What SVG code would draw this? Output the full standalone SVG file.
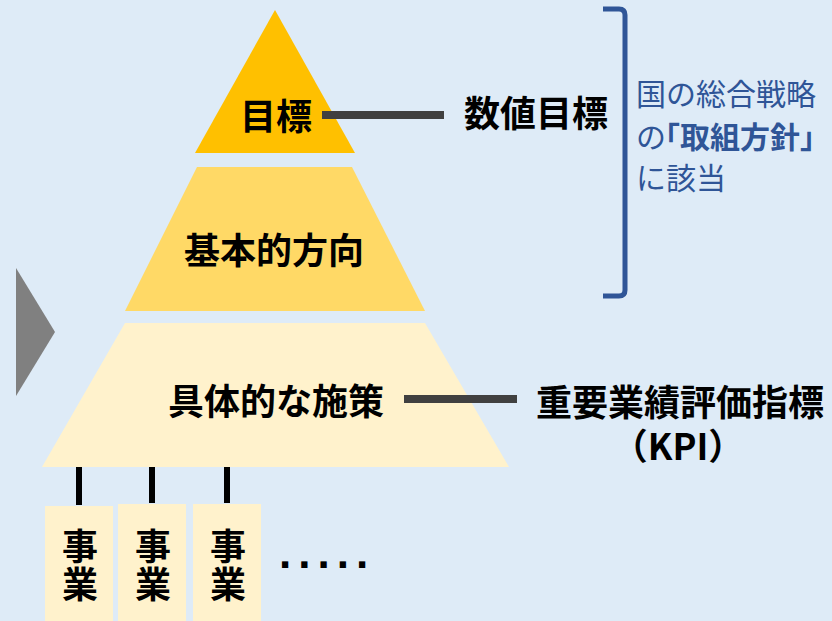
<svg xmlns="http://www.w3.org/2000/svg" width="832" height="621" viewBox="0 0 832 621">
<style>
.lbl{font-family:"Noto Sans CJK JP","Noto Sans CJK SC",sans-serif;font-weight:700;font-size:36px;fill:#000;text-anchor:middle}
.blue{font-family:"Noto Sans CJK JP","Noto Sans CJK SC",sans-serif;font-weight:400;font-size:30px;fill:#2F5597}
.conn{stroke:#404040;stroke-width:8;fill:none}
.stem{stroke:#000;stroke-width:6;fill:none}
.box{fill:#FFF2CC}
</style>
<rect width="832" height="621" fill="#DEEBF7"/>
<polygon points="16,268 55,332 16,396" fill="#808080"/>
<g id="level-top">
<polygon points="275,10 355,153 195,153" fill="#FFC000"/>
<text class="lbl" x="276" y="130">目標</text>
</g>
<g id="level-middle">
<polygon points="197,167 352,167 425,311 125,311" fill="#FFD966"/>
<text class="lbl" x="274" y="264">基本的方向</text>
</g>
<g id="level-bottom">
<polygon points="125,323 425,323 509,467 42,467" fill="#FFF2CC"/>
<text class="lbl" x="276" y="415">具体的な施策</text>
</g>
<g id="label-numeric">
<text class="lbl" x="536" y="127">数値目標</text>
</g>
<g id="label-kpi">
<text class="lbl" x="680" y="416">重要業績評価指標<tspan x="678" y="460">（KPI）</tspan></text>
</g>
<g id="bracket-note">
<path d="M603,9 H619 Q625,9 625,15 V290 Q625,296 619,296 H603" fill="none" stroke="#2F5597" stroke-width="5"/>
<text class="blue" x="636" y="105">国の総合戦略</text>
<text class="blue" x="636" y="148">の<tspan dx="-16" font-weight="700">「取組方針」</tspan></text>
<text class="blue" x="636" y="189">に該当</text>
</g>
<g id="project-1">
<rect class="box" x="45" y="506" width="68" height="115"/>
<text class="lbl" x="80" y="560">事<tspan x="80" y="598">業</tspan></text>
</g>
<g id="project-2">
<rect class="box" x="118" y="504" width="68" height="117"/>
<text class="lbl" x="153" y="560">事<tspan x="153" y="598">業</tspan></text>
</g>
<g id="project-3">
<rect class="box" x="193" y="504" width="68" height="117"/>
<text class="lbl" x="228" y="560">事<tspan x="228" y="598">業</tspan></text>
</g>
<text x="279" y="568" font-family="Liberation Sans,Arial,sans-serif" font-weight="700" font-size="44" letter-spacing="7" fill="#000">.....</text>
<g id="connectors">
<line class="conn" x1="322" y1="115" x2="444" y2="115"/>
<line class="conn" x1="404" y1="399" x2="517" y2="399"/>
<line class="stem" x1="79" y1="467" x2="79" y2="505"/>
<line class="stem" x1="152" y1="467" x2="152" y2="503"/>
<line class="stem" x1="227" y1="467" x2="227" y2="503"/>
</g>
</svg>
